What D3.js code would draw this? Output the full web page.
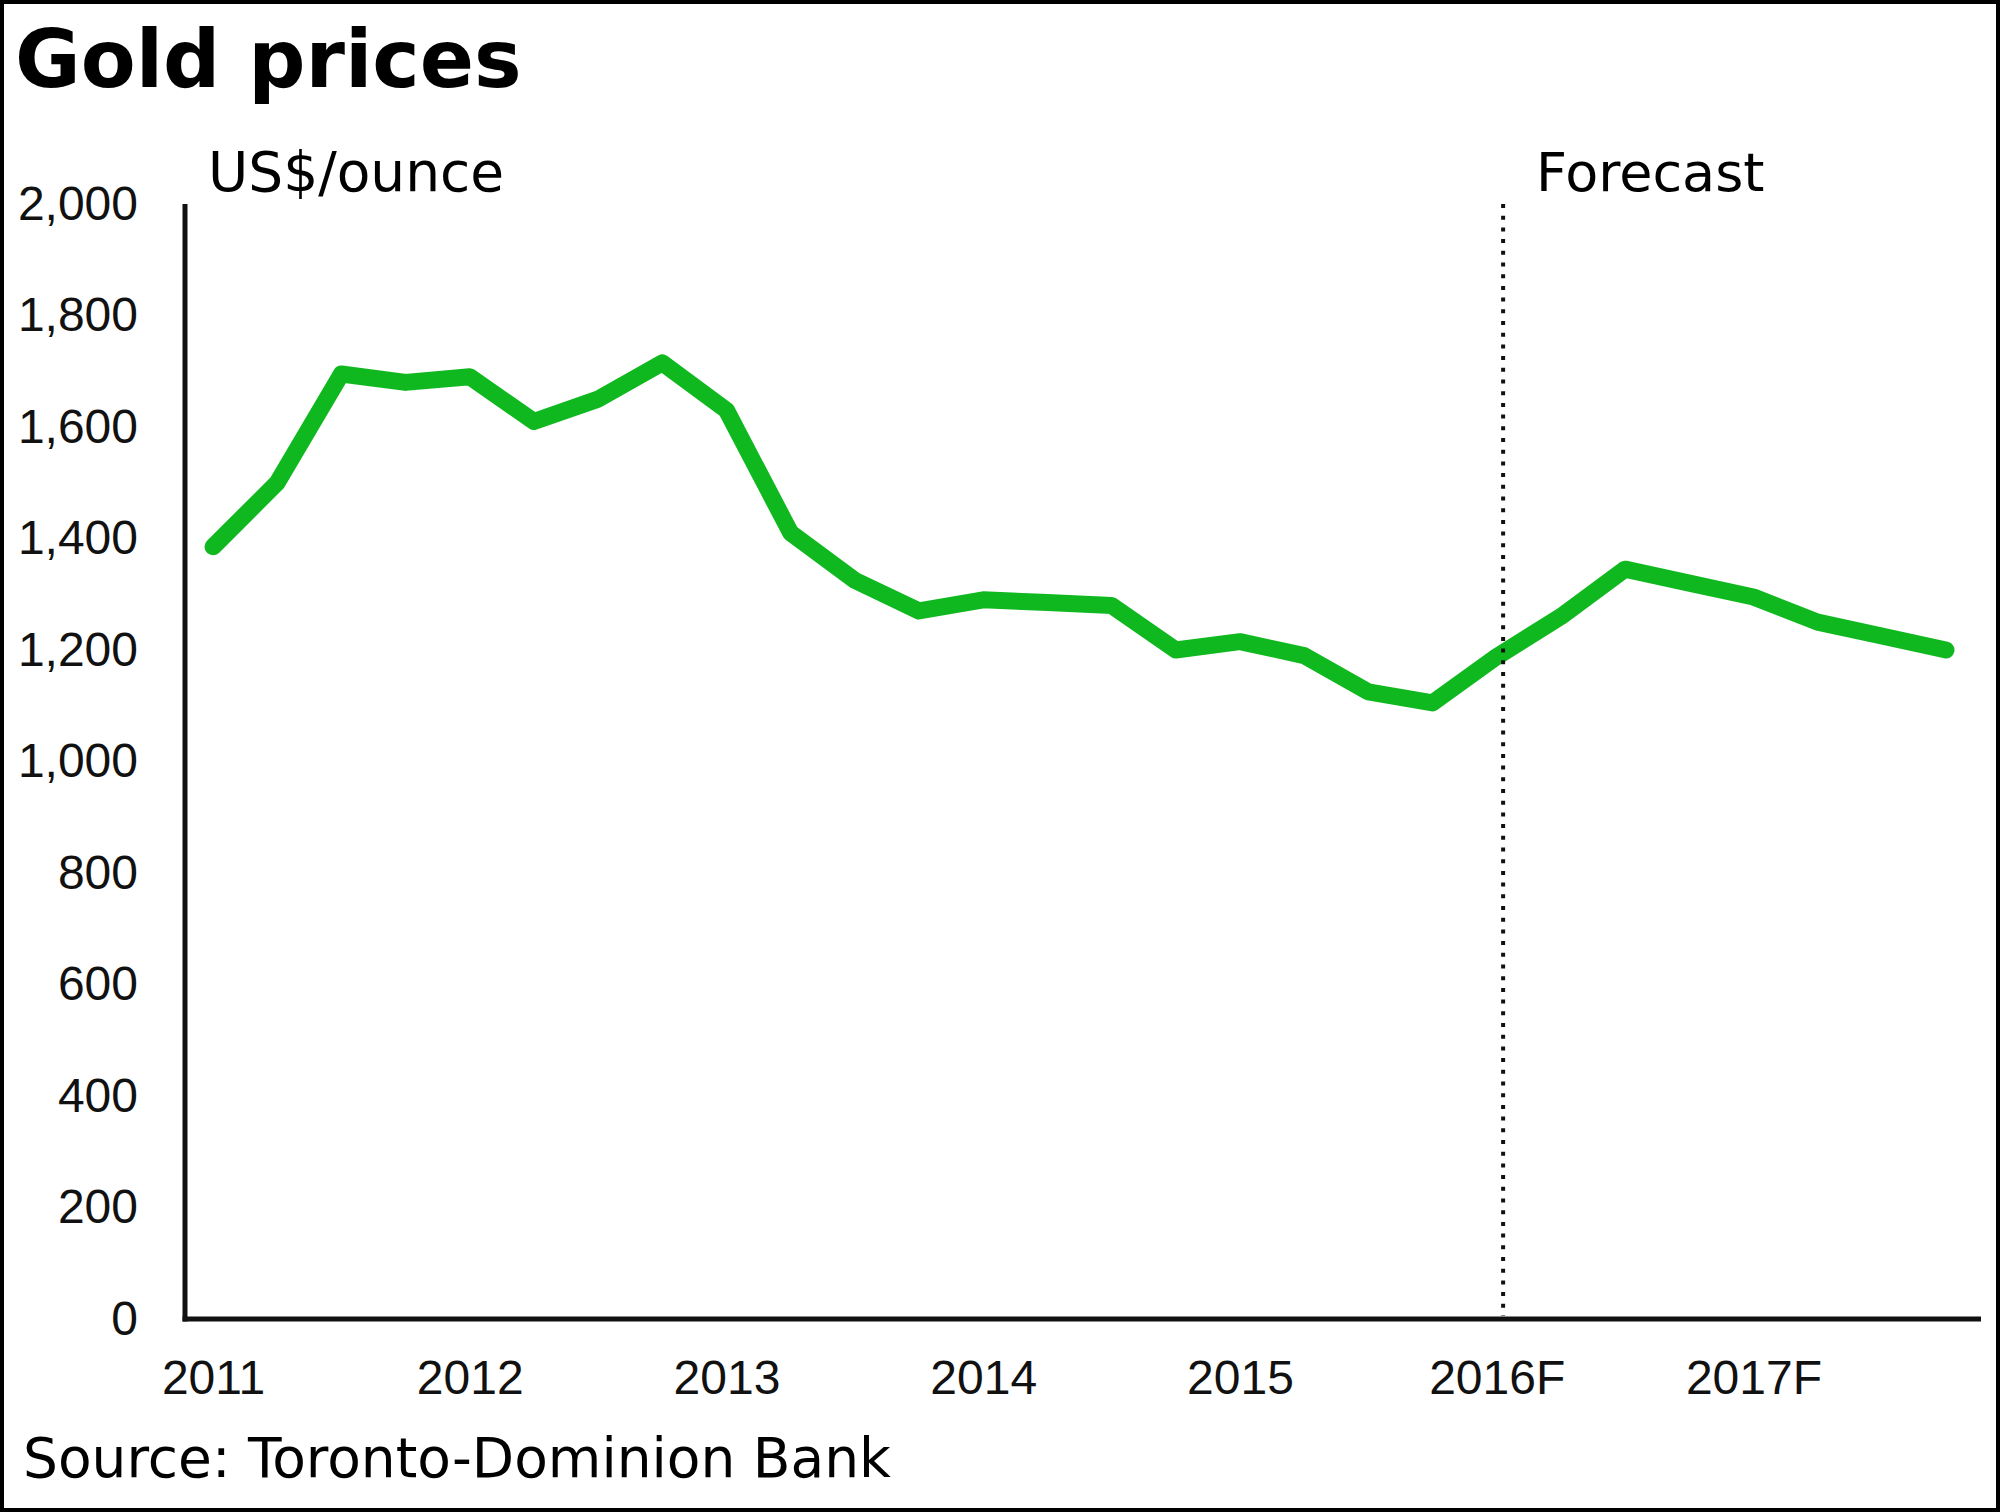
<!DOCTYPE html>
<html>
<head>
<meta charset="utf-8">
<script src="https://cdn.jsdelivr.net/npm/d3@7"></script>
<style>
  html, body { margin: 0; padding: 0; background: #fff; }
  svg { display: block; }
</style>
</head>
<body>
<svg id="chart" width="2000" height="1512"></svg>
<script>
// ---- data ----
const quarters = ["2011Q1","2011Q2","2011Q3","2011Q4","2012Q1","2012Q2","2012Q3","2012Q4",
  "2013Q1","2013Q2","2013Q3","2013Q4","2014Q1","2014Q2","2014Q3","2014Q4",
  "2015Q1","2015Q2","2015Q3","2015Q4","2016Q1","2016Q2","2016Q3","2016Q4",
  "2017Q1","2017Q2","2017Q3","2017Q4"];
const prices = [1385, 1500, 1695, 1680, 1690, 1610, 1650, 1715,
  1630, 1410, 1325, 1270, 1290, 1285, 1280, 1200,
  1215, 1190, 1125, 1105, 1188, 1260, 1345, 1320,
  1295, 1250, 1225, 1200];
const yearLabels = ["2011", "2012", "2013", "2014", "2015", "2016F", "2017F"];
const yearTickIndex = [0, 4, 8, 12, 16, 20, 24];
const yTicks = [0, 200, 400, 600, 800, 1000, 1200, 1400, 1600, 1800, 2000];
const forecastStartIndex = 20.1;

// ---- layout ----
const svg = d3.select("#chart");
const W = 2000, H = 1512;
const axisX = 185, axisY = 1319, axisRight = 1981;

const x = d3.scaleLinear().domain([0, quarters.length - 1]).range([213, 1946]);
const y = d3.scaleLinear().domain([0, 2000]).range([axisY, 204]);

// frame
svg.append("rect").attr("x", 2).attr("y", 2).attr("width", W - 4).attr("height", H - 4)
  .attr("fill", "#fff").attr("stroke", "#000").attr("stroke-width", 4);

// title
svg.append("text").attr("x", 15).attr("y", 87)
  .attr("font-family", "DejaVu Sans").attr("font-weight", "bold").attr("font-size", 80)
  .attr("fill", "#000").text("Gold prices");

svg.append("text").attr("x", 208).attr("y", 191)
  .attr("font-family", "DejaVu Sans").attr("font-size", 55)
  .attr("fill", "#000").text("US$/ounce");

svg.append("text").attr("x", 1536).attr("y", 191)
  .attr("font-family", "DejaVu Sans").attr("font-size", 54)
  .attr("fill", "#000").text("Forecast");

svg.append("text").attr("x", 23).attr("y", 1477)
  .attr("font-family", "DejaVu Sans").attr("font-size", 55)
  .attr("fill", "#000").text("Source: Toronto-Dominion Bank");

// y axis
const yAxis = d3.axisLeft(y).tickValues(yTicks).tickSize(0).tickPadding(47)
  .tickFormat(d3.format(","));
const gy = svg.append("g").attr("transform", `translate(${axisX},0)`).call(yAxis);
gy.select(".domain").remove();
gy.selectAll("text").attr("font-family", "Liberation Sans, Arial, sans-serif")
  .attr("font-size", 48).attr("fill", "#111");

// x axis
const xAxis = d3.axisBottom(x).tickValues(yearTickIndex).tickSize(0).tickPadding(41)
  .tickFormat((d, i) => yearLabels[i]);
const gx = svg.append("g").attr("transform", `translate(0,${axisY})`).call(xAxis);
gx.select(".domain").remove();
gx.selectAll("text").attr("font-family", "Liberation Sans, Arial, sans-serif")
  .attr("font-size", 48).attr("fill", "#111");

// axis lines
svg.append("line").attr("x1", axisX).attr("x2", axisX).attr("y1", y(2000)).attr("y2", axisY + 2.5)
  .attr("stroke", "#111").attr("stroke-width", 5);
svg.append("line").attr("x1", axisX - 2.5).attr("x2", axisRight).attr("y1", axisY).attr("y2", axisY)
  .attr("stroke", "#111").attr("stroke-width", 5);

// price line
const line = d3.line().x((d, i) => x(i)).y(d => y(d));
svg.append("path").datum(prices).attr("d", line)
  .attr("fill", "none").attr("stroke", "#10b820").attr("stroke-width", 17)
  .attr("stroke-linejoin", "round").attr("stroke-linecap", "round");

// forecast dotted line (drawn on top)
svg.append("line")
  .attr("x1", x(forecastStartIndex)).attr("x2", x(forecastStartIndex))
  .attr("y1", y(2000)).attr("y2", axisY - 3)
  .attr("stroke", "#111").attr("stroke-width", 4).attr("stroke-dasharray", "4 7.7");
</script>
</body>
</html>
